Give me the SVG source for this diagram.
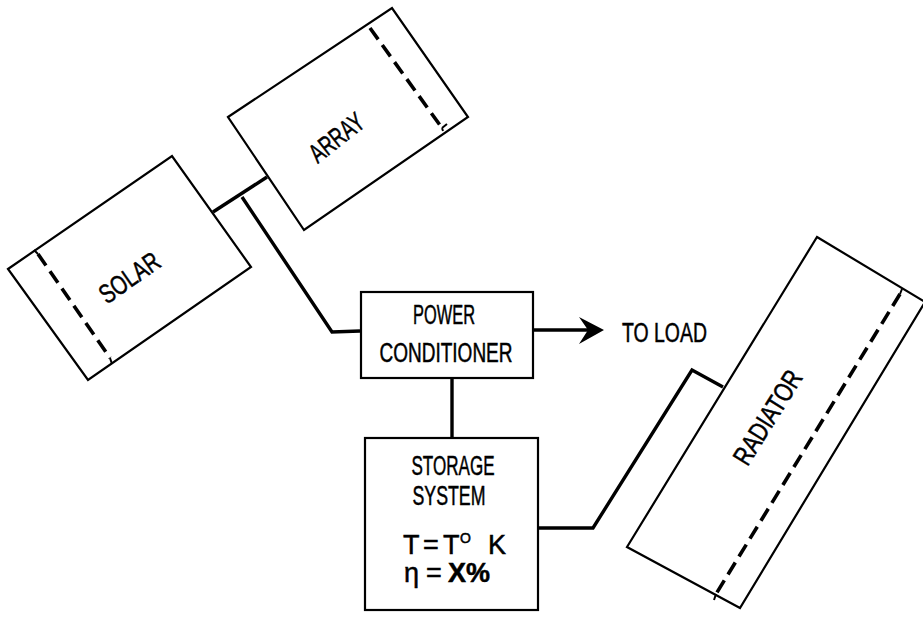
<svg xmlns="http://www.w3.org/2000/svg" width="923" height="620" viewBox="0 0 923 620">
<style>
.box{fill:none;stroke:#000;stroke-width:2.2;stroke-linejoin:miter}
.dash{fill:none;stroke:#000;stroke-width:3.6;stroke-dasharray:14 7}
.tick{fill:none;stroke:#000;stroke-width:2}
.wire{fill:none;stroke:#000;stroke-width:3.4;stroke-linejoin:miter}
text{font-family:"Liberation Sans",Arial,sans-serif;font-size:27px;fill:#000;stroke:#000;stroke-width:0.5}
.c{text-anchor:middle}
</style>
<rect width="923" height="620" fill="#fff"/>
<g id="connectors">
<path class="wire" d="M213,212 L267,177"/>
<path class="wire" d="M242,197 L332,332 L360,331"/>
<path class="wire" d="M533,330 L590,330"/>
<polygon points="604,330 579,317 588,330 579,344" fill="#000"/>
<path class="wire" d="M452,378 L452,438"/>
<path class="wire" d="M538,528 L593,528 L692,370 L723,387"/>
</g>
<g id="solar">
<polygon class="box" points="8,269 172,156 251,267 88,380"/>
<path class="dash" d="M38,254 L110,358"/>
<path class="tick" d="M34,250 L38,254 M110,358 L112,364"/>
<text class="c" transform="translate(129,277) rotate(-35)" x="0" y="10" textLength="68" lengthAdjust="spacingAndGlyphs">SOLAR</text>
</g>
<g id="array">
<polygon class="box" points="228,117 392,8 468,117 304,230"/>
<path class="dash" d="M370,28 L442,128"/>
<path class="tick" d="M442,128 L443,131 M442,128 L447,124"/>
<text class="c" transform="translate(336,137) rotate(-38)" x="0" y="10" textLength="62" lengthAdjust="spacingAndGlyphs">ARRAY</text>
</g>
<g id="power-conditioner">
<rect class="box" x="361" y="292" width="172" height="86"/>
<text class="c" x="444" y="324" textLength="62" lengthAdjust="spacingAndGlyphs">POWER</text>
<text class="c" x="446" y="362" textLength="133" lengthAdjust="spacingAndGlyphs">CONDITIONER</text>
</g>
<g id="to-load">
<text x="622" y="342" textLength="85" lengthAdjust="spacingAndGlyphs">TO LOAD</text>
</g>
<g id="storage-system">
<rect class="box" x="365" y="438" width="173" height="172"/>
<text class="c" x="453" y="475" textLength="83" lengthAdjust="spacingAndGlyphs">STORAGE</text>
<text class="c" x="449" y="505" textLength="73" lengthAdjust="spacingAndGlyphs">SYSTEM</text>
<text y="554" font-size="23"><tspan x="403">T</tspan><tspan x="423">=</tspan><tspan x="443">T</tspan><tspan x="460" y="543" font-size="14">O</tspan><tspan x="488" y="554">K</tspan></text>
<text y="582" font-size="23"><tspan x="404">η</tspan><tspan x="426">=</tspan><tspan x="448" font-weight="bold">X%</tspan></text>
</g>
<g id="radiator">
<polygon class="box" points="817,237 925,302 740,608 627,547"/>
<path class="dash" d="M900,294 L716,594"/>
<path class="tick" d="M902,289 L900,294 M716,594 L714,600"/>
<text class="c" transform="translate(767,417) rotate(-58)" x="0" y="10" textLength="106" lengthAdjust="spacingAndGlyphs">RADIATOR</text>
</g>
</svg>
